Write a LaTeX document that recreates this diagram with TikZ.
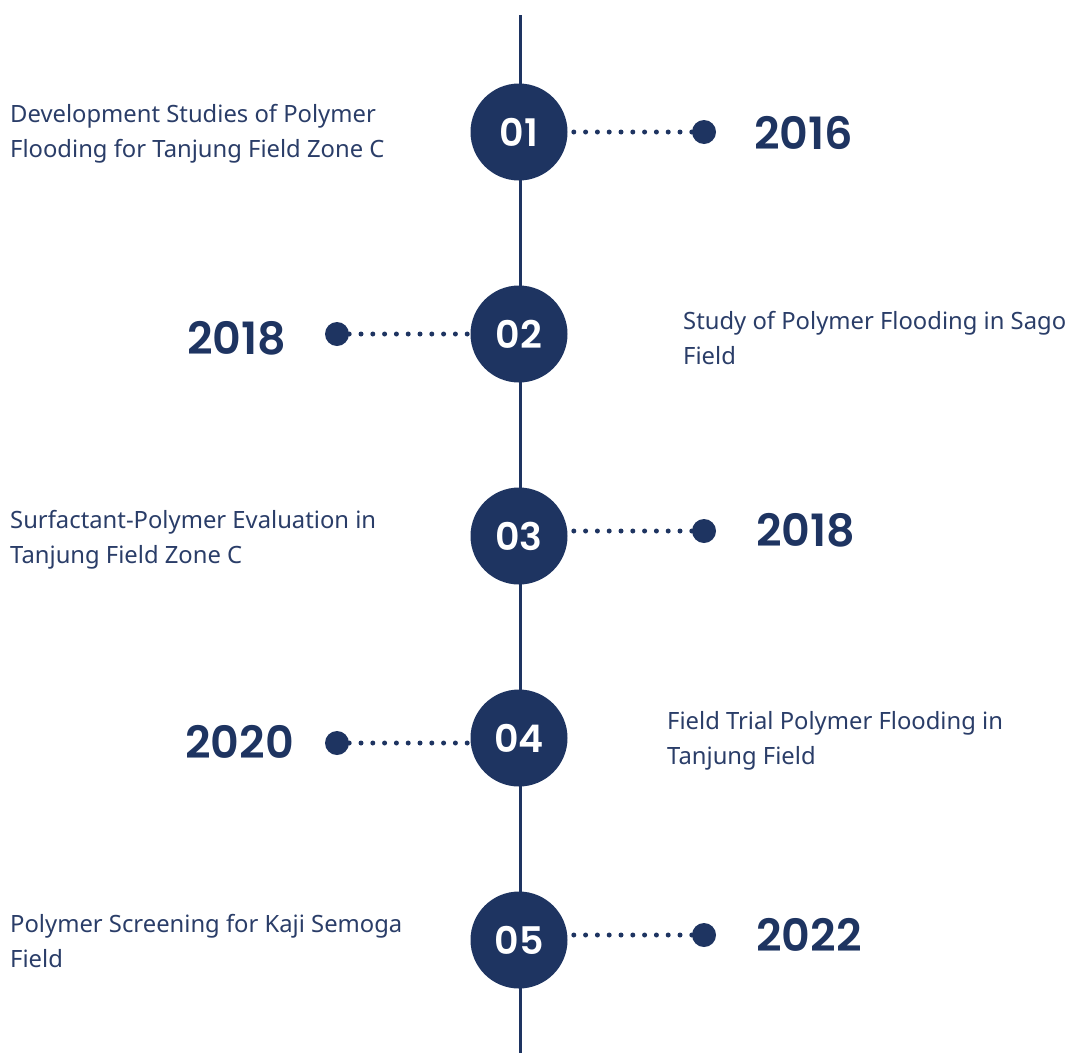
\documentclass[tikz,border=0pt]{standalone}
\usepackage{fontspec}
\setmainfont{Noto Sans}
\newfontfamily\yearfont{Poppins}[BoldFont={* SemiBold}]
\definecolor{navy}{HTML}{1E3461}
\definecolor{bodytext}{HTML}{2A3D68}
\begin{document}
\begin{tikzpicture}[x=1pt,y=-1pt,
  stepcircle/.style={circle,fill=navy,minimum size=97pt,inner sep=0pt,
    text=white,font=\yearfont\bfseries\fontsize{38}{40}\selectfont},
  enddot/.style={circle,fill=navy,minimum size=24pt,inner sep=0pt},
  yearlabel/.style={text=navy,font=\yearfont\bfseries\fontsize{44.5}{46}\selectfont,inner sep=0pt},
  desc/.style={text=bodytext,font=\fontsize{23.8}{35}\selectfont,align=left,inner sep=0pt},
  dotline/.style={navy,line width=5pt,line cap=round,dash pattern=on 0pt off 11.8pt}]
\useasboundingbox (0,0) rectangle (1073,1055);
% spine
\draw[navy,line width=3pt] (520,15) -- (520,1053);
% milestones
\node[stepcircle] (c1) at (519,132) {01};
\node[stepcircle] (c2) at (519,334) {02};
\node[stepcircle] (c3) at (519,536) {03};
\node[stepcircle] (c4) at (519,738) {04};
\node[stepcircle] (c5) at (519,940) {05};
% end dots
\node[enddot] (d1) at (704,132) {};
\node[enddot] (d2) at (337,334) {};
\node[enddot] (d3) at (704,531) {};
\node[enddot] (d4) at (337,743) {};
\node[enddot] (d5) at (704,935) {};
% dotted connectors
\draw[dotline] (d1.west) -- (c1.east |- d1.west);
\draw[dotline] (d2.east) -- (c2.west |- d2.east);
\draw[dotline] (d3.west) -- (c3.east |- d3.west);
\draw[dotline] (d4.east) -- (c4.west |- d4.east);
\draw[dotline] (d5.west) -- (c5.east |- d5.west);
% years
\node[yearlabel,anchor=west] (y1) at (754,133) {2016};
\node[yearlabel,anchor=west] (y2) at (187,338) {2018};
\node[yearlabel,anchor=west] (y3) at (756,530) {2018};
\node[yearlabel,anchor=west] (y4) at (185,742) {2020};
\node[yearlabel,anchor=west] (y5) at (756,935) {2022};
% descriptions
\node[desc,anchor=west] (t1) at (10,133.5) {Development Studies of Polymer\\Flooding for Tanjung Field Zone C};
\node[desc,anchor=west] (t2) at (683,338.5) {Study of Polymer Flooding in Sago\\Field};
\node[desc,anchor=west] (t3) at (10,539.5) {Surfactant-Polymer Evaluation in\\Tanjung Field Zone C};
\node[desc,anchor=west] (t4) at (667,740.5) {Field Trial Polymer Flooding in\\Tanjung Field};
\node[desc,anchor=west] (t5) at (10,941) {Polymer Screening for Kaji Semoga\\Field};
\end{tikzpicture}
\end{document}
